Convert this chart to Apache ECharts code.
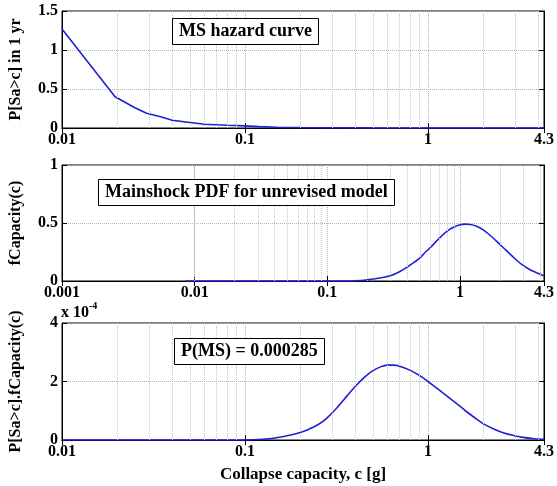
<!DOCTYPE html>
<html>
<head>
<meta charset="utf-8">
<script src="https://cdn.jsdelivr.net/npm/echarts@6/dist/echarts.min.js"></script>
<style>html,body{margin:0;padding:0;background:#fff}#c{width:557px;height:486px}</style>
</head>
<body>
<div id="c"></div>
<script>
// Panel 1: MS hazard curve
const hazC = [0.01, 0.0195, 0.025, 0.029, 0.035, 0.04, 0.05, 0.06, 0.08, 0.093, 0.12, 0.15, 0.2, 0.3, 0.5, 1, 4.3];
const hazP = [1.27, 0.40, 0.26, 0.19, 0.14, 0.10, 0.07, 0.048, 0.035, 0.03, 0.018, 0.01, 0.006, 0.003, 0.001, 0.0003, 0];
// Panel 2: mainshock PDF
const pdfC = [0.0085, 0.05, 0.1, 0.15, 0.18, 0.2, 0.23, 0.26, 0.3, 0.35, 0.4, 0.45, 0.5, 0.55, 0.6, 0.7, 0.8, 0.9, 1.0, 1.1, 1.2, 1.35, 1.5, 1.7, 1.9, 2.2, 2.5, 2.9, 3.4, 3.9, 4.3];
const pdfF = [0, 0, 0, 0, 0.004, 0.01, 0.02, 0.03, 0.045, 0.08, 0.12, 0.16, 0.2, 0.25, 0.29, 0.37, 0.43, 0.465, 0.485, 0.49, 0.487, 0.47, 0.44, 0.39, 0.34, 0.27, 0.21, 0.145, 0.095, 0.065, 0.045];
// Panel 3: product P[Sa>c].fCapacity(c), in units of 1e-4
const prodC = [0.01, 0.05, 0.1, 0.12, 0.14, 0.16, 0.18, 0.2, 0.22, 0.25, 0.28, 0.32, 0.36, 0.4, 0.45, 0.5, 0.55, 0.6, 0.65, 0.7, 0.8, 0.9, 1.0, 1.1, 1.2, 1.3, 1.45, 1.6, 1.8, 2.0, 2.3, 2.6, 2.9, 3.3, 3.8, 4.3];
const prodV = [0, 0, 0, 0.015, 0.05, 0.11, 0.18, 0.26, 0.35, 0.52, 0.75, 1.12, 1.5, 1.83, 2.15, 2.37, 2.5, 2.56, 2.56, 2.52, 2.38, 2.2, 2.0, 1.8, 1.62, 1.45, 1.22, 1.0, 0.76, 0.56, 0.37, 0.24, 0.16, 0.09, 0.045, 0.02];
const prodScale = 1e-4;
// minor log grid lines
const minor1 = [0.02,0.03,0.04,0.05,0.06,0.07,0.08,0.09,0.2,0.3,0.4,0.5,0.6,0.7,0.8,0.9,2,3,4];
const minor2 = [0.002,0.003,0.004,0.005,0.006,0.007,0.008,0.009].concat(minor1);
const boxTexts = ['MS hazard curve', 'Mainshock PDF for unrevised model', 'P(MS) = 0.000285'];
const yNames = ['P[Sa>c] in 1 yr', 'fCapacity(c)', 'P[Sa>c].fCapacity(c)'];
const xName = 'Collapse capacity, c [g]';

const FF = '"Liberation Serif", "Times New Roman", serif';
const lblStyle = {fontFamily: FF, fontWeight: 'bold', fontSize: 16, color: '#000'};
const gridTops = [11, 165, 323];
const gridH = [117, 116, 117];
const xMins = [0.01, 0.001, 0.01];
const yMax = [1.5, 1, 4e-4];
const yInt = [0.5, 0.5, 2e-4];

const grids = [], xAxes = [], yAxes = [];
for (let i = 0; i < 3; i++) {
  grids.push({left: 60, right: 12, top: gridTops[i], height: gridH[i], show: true, borderColor: '#000', borderWidth: 1});
  xAxes.push({
    type: 'log', logBase: 10, gridIndex: i, min: xMins[i], max: 4.3, position: 'bottom',
    axisLine: {show: true, lineStyle: {color: '#000', width: 1}},
    axisTick: {show: true, inside: true, length: 5, lineStyle: {color: '#000'}},
    axisLabel: Object.assign({margin: 4, formatter: v => String(+v.toPrecision(3))}, lblStyle),
    splitLine: {show: true, lineStyle: {color: '#b4b4b4', type: 'dotted', width: 1}},
    name: i === 2 ? xName : '', nameLocation: 'middle', nameGap: 26,
    nameTextStyle: {fontFamily: FF, fontWeight: 'bold', fontSize: 17, color: '#000'}
  });
  xAxes.push({
    type: 'log', logBase: 10, gridIndex: i, min: xMins[i], max: 4.3, position: 'top',
    axisLine: {show: true, lineStyle: {color: '#000'}},
    axisTick: {show: true, inside: true, length: 5, lineStyle: {color: '#000'}},
    axisLabel: {show: false}, splitLine: {show: false}
  });
  yAxes.push({
    type: 'value', gridIndex: i, min: 0, max: yMax[i], interval: yInt[i], position: 'left',
    axisLine: {show: true, lineStyle: {color: '#000'}},
    axisTick: {show: true, inside: true, length: 5, lineStyle: {color: '#000'}},
    axisLabel: Object.assign({margin: 4, formatter: i === 2 ? (v => String(Math.round(v / prodScale))) : (v => String(v))}, lblStyle),
    splitLine: {show: true, lineStyle: {color: '#b4b4b4', type: 'dotted', width: 1}},
    name: yNames[i], nameLocation: 'middle', nameRotate: 90, nameGap: 38,
    nameTextStyle: {fontFamily: FF, fontWeight: 'bold', fontSize: 16, color: '#000'}
  });
  yAxes.push({
    type: 'value', gridIndex: i, min: 0, max: yMax[i], interval: yInt[i], position: 'right',
    axisLine: {show: true, lineStyle: {color: '#000'}},
    axisTick: {show: true, inside: true, length: 5, lineStyle: {color: '#000'}},
    axisLabel: {show: false}, splitLine: {show: false}
  });
}

function mk(minors) {
  return {silent: true, symbol: 'none', label: {show: false},
    lineStyle: {color: '#c4c4c4', type: 'dotted', width: 1},
    data: minors.map(v => ({xAxis: v}))};
}
const lineStyle = {color: '#1f1fd6', width: 1.6};
const series = [
  {type: 'line', xAxisIndex: 0, yAxisIndex: 0, data: hazC.map((c, k) => [c, hazP[k]]), showSymbol: false, lineStyle, markLine: mk(minor1), z: 3},
  {type: 'line', xAxisIndex: 2, yAxisIndex: 2, data: pdfC.map((c, k) => [c, pdfF[k]]), showSymbol: false, smooth: 0.25, lineStyle, markLine: mk(minor2), z: 3},
  {type: 'line', xAxisIndex: 4, yAxisIndex: 4, data: prodC.map((c, k) => [c, prodV[k] * prodScale]), showSymbol: false, smooth: 0.25, lineStyle, markLine: mk(minor1), z: 3}
];

const boxPos = [[172, 18], [98, 179], [174, 338]];
const titles = boxTexts.map((t, i) => ({
  text: t, left: boxPos[i][0], top: boxPos[i][1],
  padding: [4, 7], borderColor: '#000', borderWidth: 1, backgroundColor: '#fff',
  textStyle: {fontFamily: FF, fontWeight: 'bold', fontSize: 18, color: '#000', lineHeight: 19}
}));

const chart = echarts.init(document.getElementById('c'), null, {renderer: 'canvas'});
chart.setOption({
  animation: false,
  title: titles,
  grid: grids, xAxis: xAxes, yAxis: yAxes, series,
  graphic: [{
    type: 'text', left: 61, top: 301,
    style: {
      text: '{a|x 10}{b|-4}', rich: {
        a: {fontFamily: FF, fontWeight: 'bold', fontSize: 16, fill: '#000', verticalAlign: 'bottom', lineHeight: 20},
        b: {fontFamily: FF, fontWeight: 'bold', fontSize: 10, fill: '#000', verticalAlign: 'top', lineHeight: 20}
      }
    }
  }]
});
</script>
</body>
</html>
